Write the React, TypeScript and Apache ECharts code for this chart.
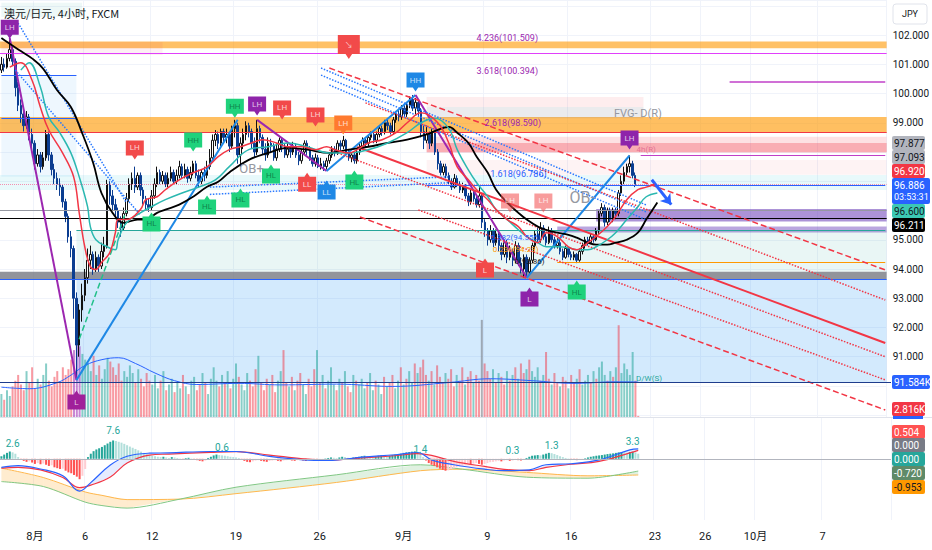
import React, { useEffect, useRef } from "react";
import * as echarts from "echarts";

// ---------- axis ticks ----------
const TOTAL_SLOTS = 319;
const tickIndex = [12, 30, 54, 84, 114, 144, 174, 204, 234, 252, 270, 294];
const tickText = ["8月", "6", "12", "19", "26", "9月", "9", "16", "23", "26", "10月", "7"];

// ---------- 4h candles (AUD/JPY) ----------
const firstOpen = 100.8;
const closes = [
  101.0, 100.9, 101.2, 101.5, 101.1, 100.2, 99.6, 99.3, 98.9, 99.2,
  98.6, 98.3, 97.6, 97.9, 97.5, 97.8, 98.6, 97.9, 97.4, 97.1,
  96.9, 96.8, 96.3, 95.8, 95.1, 94.7, 93.0, 91.4, 92.6, 93.1,
  93.7, 94.3, 94.5, 94.0, 94.4, 94.1, 94.6, 94.8, 96.9, 96.5,
  96.2, 96.0, 95.6, 95.4, 95.9, 96.4, 96.9, 97.1, 96.8, 97.2,
  96.7, 96.4, 96.2, 96.1, 96.5, 96.9, 97.3, 97.0, 97.2, 96.9,
  97.1, 97.3, 97.0, 97.2, 97.5, 97.2, 97.4, 97.1, 97.3, 97.6,
  97.2, 97.0, 97.3, 97.2, 97.5, 97.8, 98.4, 98.6, 98.3, 98.7,
  98.5, 98.6, 98.2, 98.8, 98.9, 97.9, 98.3, 98.6, 98.9, 98.7,
  98.3, 98.0, 98.8, 98.5, 98.1, 97.9, 98.3, 98.2, 97.8, 98.1,
  98.4, 98.2, 97.9, 98.1, 98.0, 98.2, 97.9, 97.7, 98.0, 98.3,
  98.1, 97.8, 97.6, 97.8, 97.5, 97.6, 97.5, 97.7, 97.9, 98.1,
  98.0, 98.3, 98.2, 98.4, 98.0, 97.8, 97.9, 97.7, 98.0, 98.2,
  98.4, 98.3, 98.5, 98.6, 98.4, 98.6, 98.8, 98.7, 99.0, 98.9,
  98.7, 99.1, 99.3, 99.2, 99.5, 99.3, 99.6, 99.8, 99.5, 99.7,
  99.4, 98.7, 98.4, 98.6, 98.3, 98.7, 98.0, 97.6, 97.3, 97.5,
  97.2, 97.0, 96.8, 97.1, 96.9, 96.7, 96.8, 96.5, 96.3, 96.6,
  96.4, 96.2, 96.5, 95.6, 95.3, 95.0, 95.3, 94.9, 95.2, 94.8,
  94.5, 94.9, 94.4, 94.6, 94.3, 94.8, 94.2, 94.0, 94.4, 93.9,
  94.3, 94.8, 95.2, 95.0, 95.4, 95.1, 94.9, 95.3, 95.0, 94.8,
  94.9, 94.6, 94.4, 94.7, 94.5, 94.4, 94.5, 94.3, 94.6, 94.8,
  95.0, 94.9, 95.1, 95.0, 95.3, 95.9, 96.1, 95.6, 96.0, 95.7,
  96.0, 95.9, 96.6, 97.0, 97.3, 97.5, 97.6, 97.2, 96.886,
];
const highs = [
  101.25, 101.2, 101.35, 101.9, 101.6, 101.2, 100.4, 99.8, 99.5, 99.4,
  99.3, 98.8, 98.4, 98.1, 98.0, 98.0, 98.75, 98.7, 98.0, 97.6,
  97.3, 97.1, 96.9, 96.4, 95.9, 95.3, 94.8, 93.2, 92.8, 93.5,
  94.0, 94.7, 94.8, 94.6, 94.6, 94.5, 94.9, 95.1, 97.05, 97.0,
  96.7, 96.4, 96.1, 95.8, 96.1, 96.6, 97.1, 97.3, 97.5, 97.3,
  97.3, 96.8, 96.5, 96.4, 96.7, 97.1, 97.5, 97.4, 97.35, 97.3,
  97.3, 97.5, 97.4, 97.4, 97.7, 97.6, 97.6, 97.5, 97.5, 97.7,
  97.7, 97.4, 97.4, 97.5, 97.7, 98.1, 98.6, 98.75, 98.7, 98.8,
  98.8, 98.8, 98.7, 98.9, 99.1, 99.0, 98.5, 98.8, 99.05, 99.0,
  98.8, 98.5, 99.1, 98.9, 98.6, 98.3, 98.5, 98.45, 98.3, 98.3,
  98.5, 98.5, 98.3, 98.3, 98.2, 98.35, 98.3, 98.0, 98.1, 98.4,
  98.4, 98.2, 97.9, 97.95, 97.9, 97.8, 97.7, 97.8, 98.0, 98.2,
  98.2, 98.4, 98.4, 98.55, 98.45, 98.1, 98.0, 98.0, 98.1, 98.3,
  98.5, 98.5, 98.6, 98.7, 98.7, 98.7, 98.9, 98.9, 99.1, 99.1,
  99.0, 99.2, 99.4, 99.45, 99.6, 99.6, 99.7, 99.9, 99.95, 99.85,
  99.8, 99.5, 98.9, 98.9, 98.7, 98.8, 98.7, 98.1, 97.7, 97.6,
  97.6, 97.3, 97.1, 97.25, 97.2, 97.0, 96.95, 96.9, 96.6, 96.7,
  96.7, 96.5, 96.8, 96.6, 95.7, 95.4, 95.5, 95.4, 95.35, 95.3,
  94.9, 95.0, 95.0, 94.8, 94.7, 94.95, 94.9, 94.4, 94.5, 94.5,
  94.4, 94.9, 95.3, 95.4, 95.6, 95.5, 95.2, 95.45, 95.4, 95.1,
  95.05, 95.0, 94.7, 94.8, 94.75, 94.6, 94.6, 94.55, 94.7, 94.9,
  95.1, 95.1, 95.2, 95.2, 95.4, 96.0, 96.25, 96.2, 96.1, 96.1,
  96.1, 96.1, 96.7, 97.2, 97.5, 97.6, 97.88, 97.7, 97.3,
];
const lows = [
  100.7, 100.75, 100.85, 101.1, 100.95, 99.9, 99.4, 99.0, 98.7, 98.8,
  98.4, 98.1, 97.4, 97.5, 97.3, 97.4, 97.7, 97.7, 97.2, 96.9,
  96.7, 96.5, 96.1, 95.6, 94.9, 94.4, 92.3, 90.2, 91.0, 92.2,
  92.9, 93.5, 94.0, 93.8, 93.9, 93.9, 94.0, 94.4, 94.7, 96.2,
  96.0, 95.7, 95.4, 95.1, 95.3, 95.8, 96.3, 96.7, 96.6, 96.7,
  96.5, 96.2, 96.0, 95.95, 96.0, 96.4, 96.8, 96.9, 96.9, 96.8,
  96.8, 97.0, 96.9, 96.9, 97.1, 97.1, 97.1, 96.95, 97.0, 97.2,
  97.1, 96.8, 96.9, 97.0, 97.1, 97.4, 97.7, 98.2, 98.1, 98.2,
  98.3, 98.3, 98.0, 98.1, 98.5, 97.6, 97.5, 98.1, 98.4, 98.5,
  98.1, 97.8, 97.9, 98.3, 97.9, 97.7, 97.8, 98.0, 97.7, 97.7,
  98.0, 98.0, 97.8, 97.8, 97.8, 97.9, 97.8, 97.55, 97.6, 97.9,
  97.9, 97.7, 97.5, 97.5, 97.45, 97.4, 97.35, 97.4, 97.6, 97.8,
  97.85, 97.9, 98.0, 98.1, 97.9, 97.7, 97.65, 97.6, 97.6, 97.9,
  98.1, 98.15, 98.2, 98.4, 98.3, 98.3, 98.5, 98.55, 98.6, 98.75,
  98.6, 98.6, 99.0, 99.05, 99.1, 99.2, 99.2, 99.5, 99.4, 99.3,
  99.2, 98.5, 98.1, 98.3, 98.1, 98.2, 97.9, 97.4, 97.2, 97.2,
  97.1, 96.85, 96.7, 96.75, 96.8, 96.6, 96.6, 96.4, 96.15, 96.2,
  96.3, 96.1, 96.1, 95.4, 95.1, 94.8, 94.9, 94.75, 94.8, 94.6,
  94.3, 94.4, 94.2, 94.3, 94.1, 94.2, 94.1, 93.85, 93.7, 93.75,
  93.8, 94.2, 94.7, 94.9, 94.9, 95.0, 94.8, 94.85, 94.9, 94.7,
  94.7, 94.5, 94.3, 94.35, 94.4, 94.3, 94.3, 94.2, 94.25, 94.5,
  94.7, 94.8, 94.85, 94.9, 94.95, 95.2, 95.8, 95.45, 95.5, 95.6,
  95.6, 95.7, 95.8, 96.5, 96.9, 97.2, 97.3, 97.1, 96.8,
];

// ---------- volume (thousands) ----------
const volumesK = [
  60, 45, 70, 55, 80, 95, 110, 85, 70, 120,
  90, 130, 75, 100, 85, 110, 140, 95, 80, 105,
  120, 90, 130, 110, 125, 150, 175, 190, 185, 165,
  150, 140, 120, 160, 110, 135, 100, 125, 155, 145,
  130, 110, 140, 95, 120, 105, 135, 115, 90, 125,
  100, 80, 115, 95, 85, 110, 75, 95, 120, 70,
  85, 100, 65, 90, 75, 110, 80, 60, 95, 105,
  70, 85, 115, 90, 60, 100, 130, 95, 80, 110,
  90, 120, 75, 100, 140, 105, 85, 70, 115, 95,
  80, 125, 160, 90, 70, 100, 85, 110, 65, 95,
  120, 175, 90, 80, 105, 70, 95, 115, 85, 60,
  100, 80, 125, 175, 90, 110, 75, 95, 130, 85,
  70, 100, 90, 120, 80, 65, 110, 95, 85, 100,
  75, 90, 115, 70, 95, 85, 60, 105, 80, 90,
  110, 75, 95, 130, 85, 100, 120, 90, 140, 115,
  130, 150, 110, 95, 120, 85, 135, 105, 90, 115,
  100, 125, 80, 110, 95, 130, 85, 105, 120, 90,
  110, 95, 254, 140, 120, 100, 125, 90, 115, 105,
  85, 120, 95, 110, 130, 100, 140, 115, 125, 150,
  120, 105, 130, 95, 110, 170, 100, 85, 115, 90,
  80, 105, 95, 75, 110, 90, 100, 125, 85, 95,
  110, 90, 120, 100, 130, 145, 110, 95, 120, 105,
  130, 240, 115, 140, 125, 110, 170, 95, 2.816,
];
const volMAIdx = [0, 10, 20, 25, 30, 36, 42, 48, 55, 62, 70, 85, 100, 120, 140, 160, 175, 190, 205, 220, 228];
const volMAVal = [78, 74, 90, 110, 135, 150, 155, 140, 115, 95, 85, 88, 84, 86, 80, 90, 100, 95, 88, 92, 91.6];

// ---------- moving averages ----------
const redMAIdx = [3, 7, 11, 14, 17, 22, 26, 28, 30, 32, 34, 36, 39, 41, 42, 45, 50, 52, 56, 59, 64, 69, 74, 78, 82, 86, 90, 94, 99, 103, 108, 113, 117, 120, 125, 128, 132, 137, 142, 146, 151, 157, 161, 164, 168, 171, 175, 178, 182, 186, 189, 193, 196, 200, 204, 207, 211, 214, 218, 221, 225, 229, 232, 235];
const redMAVal = [100.9, 101.05, 100.46, 99.54, 98.76, 97.97, 97.15, 95.92, 94.76, 94.08, 93.98, 94.22, 94.56, 95.24, 95.69, 95.69, 96.03, 96.37, 96.47, 96.71, 97.05, 97.29, 97.49, 97.84, 98.08, 98.18, 98.31, 98.42, 98.31, 98.18, 98.18, 98.08, 98.18, 98.08, 97.97, 98.08, 98.31, 98.42, 98.66, 99.0, 99.34, 99.0, 98.3, 97.49, 97.05, 96.71, 96.37, 96.03, 95.69, 95.45, 95.11, 94.9, 95.24, 95.11, 94.76, 94.66, 94.9, 95.11, 95.45, 95.79, 96.37, 96.71, 96.8, 96.9];
const tealMAIdx = [7, 10, 14, 17, 21, 25, 28, 31, 32, 34, 38, 41, 42, 45, 50, 54, 59, 65, 71, 77, 82, 89, 96, 103, 110, 118, 125, 132, 139, 146, 151, 156, 161, 164, 168, 171, 175, 178, 182, 186, 189, 193, 196, 200, 204, 207, 211, 214, 218, 221, 225, 229, 232, 236];
const tealMAVal = [100.8, 101.05, 100.23, 99.2, 98.66, 97.97, 97.15, 96.13, 95.45, 95.0, 94.76, 94.66, 95.0, 95.58, 95.92, 96.13, 96.37, 96.6, 96.8, 97.05, 97.5, 98.08, 98.18, 98.31, 98.18, 97.97, 97.97, 98.08, 98.31, 98.66, 99.0, 99.15, 98.8, 98.08, 97.39, 96.95, 96.47, 96.03, 95.69, 95.34, 95.11, 94.9, 94.76, 94.76, 94.73, 94.66, 94.66, 94.76, 95.0, 95.24, 95.69, 96.13, 96.47, 96.6];
const blackMAIdx = [0, 3, 7, 11, 15, 20, 25, 29, 33, 36, 40, 44, 49, 52, 56, 59, 64, 69, 74, 78, 82, 89, 96, 103, 110, 118, 125, 132, 139, 146, 153, 157, 161, 164, 168, 171, 175, 178, 182, 186, 189, 193, 196, 200, 204, 207, 211, 214, 218, 221, 225, 229, 232, 236];
const blackMAVal = [101.9, 101.7, 101.45, 101.2, 100.85, 100.12, 99.54, 98.66, 97.63, 96.6, 95.92, 95.58, 95.69, 95.69, 95.92, 96.03, 96.2, 96.47, 96.81, 96.98, 97.3, 97.73, 97.97, 98.14, 98.08, 97.97, 98.08, 98.18, 98.31, 98.42, 98.6, 98.76, 98.86, 98.66, 98.31, 97.84, 97.29, 96.71, 96.27, 95.92, 95.69, 95.45, 95.34, 95.24, 95.17, 95.07, 94.9, 94.83, 94.83, 94.9, 95.0, 95.24, 95.69, 96.27];

// ---------- MACD pane ----------
const macdHist = [
  0.15, 0.25, 0.35, 0.43, 0.38, 0.3, 0.1, -0.05, -0.12, -0.18,
  -0.15, -0.22, -0.3, -0.25, -0.32, -0.28, -0.35, -0.42, -0.38, -0.5,
  -0.55, -0.6, -0.58, -0.7, -0.8, -0.85, -0.95, -1.05, -1.2, -1.0,
  -0.6, 0.1, 0.3, 0.45, 0.55, 0.62, 0.7, 0.8, 0.9, 1.0,
  1.08, 1.05, 1.0, 0.95, 0.88, 0.8, 0.72, 0.65, 0.58, 0.5,
  0.42, 0.35, 0.3, 0.22, 0.18, 0.15, 0.12, 0.1, 0.12, 0.08,
  0.05, 0.1, 0.08, 0.05, 0.02, -0.03, 0.04, 0.06, 0.02, -0.02,
  -0.08, -0.12, -0.15, -0.1, 0.05, 0.12, 0.2, 0.25, 0.22, 0.2,
  0.18, 0.15, 0.12, 0.1, 0.08, 0.05, -0.05, -0.12, -0.18, -0.2,
  -0.15, -0.1, -0.08, -0.12, -0.15, -0.18, -0.12, -0.1, -0.08, -0.12,
  -0.15, -0.1, -0.08, -0.05, -0.1, -0.12, -0.08, -0.05, -0.1, -0.13,
  -0.08, -0.06, -0.1, -0.12, -0.08, -0.05, 0.02, 0.05, 0.08, 0.06,
  0.04, 0.08, 0.12, 0.1, 0.06, 0.05, 0.08, 0.1, 0.12, 0.15,
  0.18, 0.15, 0.12, 0.1, 0.14, 0.18, 0.2, 0.16, 0.14, 0.18,
  0.22, 0.25, 0.28, 0.3, 0.35, 0.38, 0.4, 0.42, 0.44, 0.4,
  0.3, 0.1, -0.1, -0.25, -0.35, -0.42, -0.5, -0.58, -0.65, -0.7,
  -0.68, -0.6, -0.55, -0.5, -0.45, -0.4, -0.35, -0.3, -0.32, -0.28,
  -0.25, -0.3, -0.35, -0.3, -0.25, -0.2, -0.18, -0.15, -0.12, -0.15,
  -0.1, -0.08, -0.12, -0.1, -0.06, -0.08, -0.1, -0.05, 0.05, 0.12,
  0.18, 0.2, 0.22, 0.2, 0.25, 0.3, 0.35, 0.33, 0.28, 0.22,
  0.15, 0.1, 0.05, 0.02, -0.03, -0.06, -0.08, -0.05, -0.02, 0.03,
  0.08, 0.12, 0.15, 0.18, 0.2, 0.22, 0.25, 0.28, 0.3, 0.32,
  0.35, 0.38, 0.4, 0.38, 0.35, 0.4, 0.42, 0.38, 0.3,
];
const macdIdx = [0, 6, 14, 22, 28, 32, 39, 45, 53, 60, 75, 84, 96, 108, 117, 129, 141, 149, 154, 162, 173, 180, 189, 195, 204, 214, 225, 228];
const macdVal = [-0.5, -0.4, -0.6, -1.0, -1.9, -1.4, -0.37, 0.15, 0.33, 0.35, 0.43, 0.43, 0.14, -0.06, -0.1, 0.1, 0.24, 0.37, -0.06, -0.35, -0.61, -0.7, -0.65, -0.35, -0.29, -0.06, 0.53, 0.59];
const signalVal = [-0.55, -0.5, -0.65, -1.1, -1.7, -1.55, -1.07, -0.25, 0.22, 0.28, 0.38, 0.42, 0.22, 0.0, -0.08, 0.05, 0.18, 0.3, 0.2, -0.15, -0.45, -0.62, -0.7, -0.5, -0.32, -0.15, 0.35, 0.5];
const bandIdx = [0, 15, 30, 36, 45, 64, 84, 120, 150, 165, 188, 210, 228];
const bandOrange = [-0.55, -1.1, -1.95, -2.15, -2.4, -2.37, -2.05, -1.39, -0.7, -0.61, -0.8, -1.0, -0.953];
const bandGreen = [-1.34, -1.63, -2.55, -2.75, -2.9, -2.37, -1.67, -0.94, -0.35, -0.61, -1.08, -1.14, -0.72];
const macdNoteIdx = [4, 40, 79, 150, 183, 197, 226];
const macdNoteVal = [0.88, 1.65, 0.65, 0.53, 0.47, 0.76, 1.0];
const macdNoteText = ["2.6", "7.6", "0.6", "1.4", "0.3", "1.3", "3.3"];

// ---------- swing labels ----------
const pivotText = ["LH", "LH", "HH", "HL", "HL", "HH", "LH", "LH", "HL", "HL", "LH", "LH", "LL", "LL", "HL", "HH", "↘", "LH", "LH", "L", "L", "HL", "LH", "L"];
const pivotIdx = [3, 48, 69, 54, 74, 84, 92, 101, 86, 97, 113, 123, 110, 117, 127, 149, 125, 183, 195, 174, 190, 207, 226, 27];
const pivotPrice = [102.2, 98.07, 98.34, 95.61, 96.19, 99.5, 99.57, 99.44, 96.43, 97.25, 99.2, 98.92, 96.97, 96.7, 97.04, 100.39, 101.59, 96.26, 96.26, 94.03, 93.04, 93.28, 98.41, 89.52];
const pivotKind = ["purple", "red", "green", "green", "green", "green", "purple", "red", "green", "green", "red", "orange", "red", "blue", "green", "blue", "red", "faint", "faint", "red", "purple", "green", "purple", "magenta"];
const pivotDown = [true, true, true, false, false, true, true, true, false, false, true, true, false, false, false, true, true, true, true, false, false, false, true, false];

// ---------- fib / zone texts ----------
const noteText = ["4.236(101.509)", "3.618(100.394)", "2.618(98.590)", "1.618(96.786)", "FVG- D(R)", "4h(R)", "OB-", "OB+", "D/W(S)", "0(93.86)", "0.236(94.29)", "0.382(94.556)"];
const noteIdx = [182, 182, 184, 186, 229, 232, 209, 90, 233, 190, 185, 185];
const notePrice = [101.9, 100.77, 99.0, 97.25, 99.33, 98.07, 96.46, 97.45, 90.27, 94.24, 94.68, 95.06];

// ---------- right-scale tags ----------
const tagText = ["97.877", "97.093", "96.920", "96.886", "96.600", "96.211", "91.584K", "2.816K", "0.504", "0.000", "0.000", "-0.720", "-0.953"];

const FONT = "Roboto, 'Noto Sans CJK SC', sans-serif";

function bandSeries(idx: number[], a: number[], b: number[], posColor: string, negColor: string, z: number) {
  const color = (d: number) => (d >= 0 ? posColor : negColor);
  return {
    type: "custom", xAxisIndex: 2, yAxisIndex: 2, z, silent: true,
    data: idx.map((x, j) => [x, a[j], b[j]]),
    encode: { x: 0, y: [1, 2] },
    renderItem: (params: any, api: any) => {
      const j = params.dataIndex;
      if (j >= idx.length - 1) return null;
      const x0 = idx[j], x1 = idx[j + 1];
      const a0 = a[j], a1 = a[j + 1], b0 = b[j], b1 = b[j + 1];
      const d0 = a0 - b0, d1 = a1 - b1;
      const poly = (pts: number[][], fill: string) => ({
        type: "polygon", shape: { points: pts.map((p) => api.coord(p)) }, style: { fill },
      });
      if (d0 * d1 < 0) {
        const t = d0 / (d0 - d1);
        const xc = x0 + t * (x1 - x0);
        const yc = a0 + t * (a1 - a0);
        return {
          type: "group",
          children: [poly([[x0, a0], [xc, yc], [x0, b0]], color(d0)), poly([[xc, yc], [x1, a1], [x1, b1]], color(d1))],
        };
      }
      return poly([[x0, a0], [x1, a1], [x1, b1], [x0, b0]], color(d0 + d1));
    },
  };
}

function buildOption() {
  const categories = Array.from({ length: TOTAL_SLOTS }, (_, i) => "c" + i);
  const candleData = closes.map((c, i) => {
    const o = i === 0 ? firstOpen : closes[i - 1];
    return [o, c, Math.min(lows[i], o, c), Math.max(highs[i], o, c)];
  });
  const volData = volumesK.map((v, i) => {
    const up = candleData[i][1] >= candleData[i][0];
    let color = up ? "rgba(38,166,154,0.55)" : "rgba(242,54,69,0.5)";
    if (i >= 26 && i <= 28) color = "rgba(156,39,176,0.55)";
    if (i === 172) color = "rgba(120,123,134,0.6)";
    return { value: v, itemStyle: { color } };
  });
  const histData = macdHist.map((v, i) => {
    const prev = i > 0 ? macdHist[i - 1] : v;
    let color;
    if (v >= 0) color = v >= prev ? "#26a69a" : "#b2dfdb";
    else color = v <= prev ? "#ff5252" : "#ffcdd2";
    return { value: v, itemStyle: { color } };
  });
  const pairs = (a: number[], b: number[]) => a.map((x, k) => [x, b[k]]);

  const tickSet = new Set(tickIndex);
  const isTick = (index: number) => tickSet.has(index);

  const kindColor: any = {
    purple: "#8e24aa", red: "#f24a4a", green: "#1fd27c", blue: "#1e88e5", orange: "#ff7a2f",
    faint: "rgba(242,74,74,0.55)", magenta: "#a0209a",
  };
  const downPin = "path://M0 0H20V15H13L10 19L7 15H0Z";
  const upPin = "path://M0 4H7L10 0L13 4H20V19H0Z";
  const pivotPoints = pivotText.map((t, k) => ({
    coord: [pivotIdx[k], pivotPrice[k]],
    symbol: pivotDown[k] ? downPin : upPin,
    symbolSize: t === "↘" ? [22, 24] : [18, 19],
    itemStyle: { color: kindColor[pivotKind[k]] },
    label: {
      show: true, formatter: t, fontSize: 8, fontFamily: FONT, position: "inside",
      offset: pivotDown[k] ? [0, -2] : [0, 2],
      color: pivotKind[k] === "green" ? "rgba(0,60,30,0.55)" : "rgba(255,255,255,0.75)",
    },
  }));
  const noteColors = ["#9c27b0", "#9c27b0", "#9c27b0", "#2962ff", "#9598a1", "#e57393", "#9598a1", "#9598a1", "#26a69a", "#131722", "#ff9800", "#2962ff"];
  const noteSizes = [9, 9, 9, 9, 11, 8, 16, 13, 8, 8, 8, 8];
  const notePoints = noteText.map((t, k) => ({
    coord: [noteIdx[k], notePrice[k]],
    symbol: "rect", symbolSize: 1, itemStyle: { color: "rgba(0,0,0,0)" },
    label: { show: true, formatter: t, position: "inside", color: noteColors[k], fontSize: noteSizes[k], fontFamily: FONT },
  }));

  const area = (y1: number, y2: number, color: string, x1?: number, x2?: number) => {
    const a: any = { yAxis: y1, itemStyle: { color } };
    const b: any = { yAxis: y2 };
    if (x1 !== undefined) a.xAxis = x1;
    if (x2 !== undefined) b.xAxis = x2;
    return [a, b];
  };
  const seg = (i1: number, p1: number, i2: number, p2: number, color: string, type: string, width: number) => [
    { coord: [i1, p1], lineStyle: { color, type, width } },
    { coord: [i2, p2] },
  ];
  const R = 318;

  const markAreas = [
    area(103.1, 102.62, "rgba(38,166,154,0.08)", 0, 29),
    area(101.78, 101.55, "rgba(255,152,0,0.6)"),
    area(101.76, 101.32, "rgba(233,30,99,0.07)", 0, 58),
    area(100.63, 97.15, "rgba(33,150,243,0.08)", 0, 27),
    area(99.2, 98.66, "rgba(255,152,0,0.62)"),
    area(99.88, 99.54, "rgba(242,54,69,0.09)", 153, 231),
    area(99.54, 99.15, "rgba(120,123,134,0.15)", 153, 231),
    area(98.52, 97.97, "rgba(242,54,69,0.15)", 153),
    area(98.31, 98.0, "rgba(242,54,69,0.3)", 153),
    area(97.73, 97.22, "rgba(242,54,69,0.06)", 153),
    area(97.21, 96.7, "rgba(0,188,212,0.09)"),
    area(96.05, 95.62, "rgba(103,58,183,0.55)", 214),
    area(95.45, 95.25, "rgba(103,58,183,0.45)", 200),
    area(95.33, 93.91, "rgba(38,166,154,0.1)", 27),
    area(93.91, 93.64, "rgba(110,112,122,0.75)"),
    area(93.64, 90.12, "rgba(33,150,243,0.2)", 27),
  ];
  const markLines = [
    { yAxis: 101.38, lineStyle: { color: "#e040fb", width: 1, type: "solid" } },
    { yAxis: 98.66, lineStyle: { color: "#f23645", width: 1, type: "solid" } },
    { yAxis: 96.9, lineStyle: { color: "#f48fb1", width: 1, type: "dotted" } },
    { yAxis: 96.02, lineStyle: { color: "#9598a1", width: 1, type: "solid" } },
    { yAxis: 95.72, lineStyle: { color: "#000000", width: 1, type: "solid" } },
    { yAxis: 93.64, lineStyle: { color: "#2962ff", width: 1, type: "solid" } },
    { yAxis: 90.12, lineStyle: { color: "#1e3c8c", width: 1, type: "solid" } },
    seg(27, 95.33, R, 95.33, "#26a69a", "solid", 1),
    seg(0, 100.63, 27, 100.63, "#2962ff", "solid", 1),
    seg(0, 99.17, 27, 99.17, "#2962ff", "solid", 1),
    seg(262, 100.394, R, 100.394, "#c040c8", "solid", 1.5),
    seg(230, 97.9, R, 97.9, "#c040c8", "solid", 1),
    seg(153, 96.85, R, 96.85, "#2962ff", "solid", 1),
    seg(200, 94.24, R, 94.24, "#ff9800", "solid", 1),
    // swing zigzag
    seg(3, 101.9, 27, 90.2, "#9c27b0", "solid", 2),
    seg(27, 90.2, 85, 99.1, "#1e88e5", "solid", 2),
    seg(92, 99.1, 117, 97.35, "#9c27b0", "solid", 2),
    seg(117, 97.35, 149, 99.95, "#1e88e5", "solid", 2),
    seg(149, 99.95, 189, 93.7, "#9c27b0", "solid", 2),
    seg(189, 93.7, 226, 97.88, "#1e88e5", "solid", 2),
    seg(28, 91.6, 45, 96.0, "#22c08a", "dashed", 1.5),
    // blue dotted trend lines
    seg(6, 102.41, 45, 96.26, "#2979ff", "dotted", 1.5),
    seg(5, 100.8, 50, 95.85, "#2979ff", "dotted", 1.5),
    seg(115, 100.87, 232, 96.19, "#2979ff", "dotted", 1.5),
    seg(115, 100.63, 232, 95.95, "#2979ff", "dotted", 1.5),
    seg(118, 100.29, 232, 95.68, "#2979ff", "dotted", 1.5),
    seg(75, 96.8, 161, 97.15, "#2979ff", "dotted", 1.5),
    seg(75, 96.55, 161, 96.95, "#2979ff", "dotted", 1.5),
    // red channel
    seg(118, 100.87, R, 93.97, "#f23645", "dashed", 1.5),
    seg(131, 99.68, R, 92.94, "#f23645", "dotted", 1.5),
    seg(128, 98.17, R, 91.47, "#f23645", "solid", 2),
    seg(118, 98.07, R, 91.0, "#f23645", "dotted", 1.5),
    seg(150, 96.02, R, 90.21, "#f23645", "dotted", 1.5),
    seg(129, 95.78, R, 89.18, "#f23645", "dashed", 1.5),
    [
      { coord: [234, 97.05], symbol: "none", lineStyle: { color: "#2962ff", width: 3, type: "solid" } },
      { coord: [241, 96.2], symbol: "arrow", symbolSize: 10 },
    ],
  ];

  const tagLayout = [
    { y: 143, bg: "#b2b5be", fg: "#131722" },
    { y: 157, bg: "#b2b5be", fg: "#131722" },
    { y: 171, bg: "#f23645", fg: "#ffffff" },
    { y: 185, bg: "#2962ff", fg: "#ffffff", sub: "03:53:31" },
    { y: 211, bg: "#3cc8b4", fg: "#131722" },
    { y: 225, bg: "#000000", fg: "#ffffff" },
    { y: 382, bg: "#2962ff", fg: "#ffffff" },
    { y: 409, bg: "#f23645", fg: "#ffffff" },
    { y: 432, bg: "#ff5252", fg: "#ffffff" },
    { y: 445, bg: "#787b86", fg: "#ffffff" },
    { y: 459, bg: "#26a69a", fg: "#ffffff" },
    { y: 473, bg: "#5f8a68", fg: "#ffffff" },
    { y: 487, bg: "#ff9800", fg: "#131722" },
  ];
  const tagGraphics: any[] = [
    { type: "rect", shape: { x: 893, y: 407, width: 30, height: 12 }, style: { fill: "#2962ff" }, z: 100 },
  ];
  tagText.forEach((t, k) => {
    const L: any = tagLayout[k];
    const h = L.sub ? 26 : 14;
    const w = t.length > 6 || L.sub ? 38 : 33;
    tagGraphics.push({ type: "rect", shape: { x: 892, y: L.y - 7, width: w, height: h, r: 2 }, style: { fill: L.bg }, z: 101 });
    tagGraphics.push({ type: "text", x: 894, y: L.y, style: { text: t, fill: L.fg, font: `10px ${FONT}`, verticalAlign: "middle" }, z: 102 });
    if (L.sub) {
      tagGraphics.push({ type: "text", x: 894, y: L.y + 12, style: { text: L.sub, fill: L.fg, font: `9px ${FONT}`, verticalAlign: "middle" }, z: 102 });
    }
  });

  // axis labels hidden underneath the tag stack
  const hiddenTicks = [96, 97, 98];

  return {
    animation: false,
    backgroundColor: "#ffffff",
    grid: [
      { left: 0, right: 41, top: 0, height: 417 },
      { left: 0, right: 41, top: 300, height: 117 },
      { left: 0, right: 41, top: 417, height: 103 },
    ],
    xAxis: [
      {
        type: "category", gridIndex: 0, data: categories, boundaryGap: true,
        axisLine: { show: false }, axisTick: { show: false }, axisLabel: { show: false },
        splitLine: { show: true, interval: isTick, lineStyle: { color: "#f0f3fa" } },
      },
      {
        type: "category", gridIndex: 1, data: categories, boundaryGap: true, show: false,
      },
      {
        type: "category", gridIndex: 2, data: categories, boundaryGap: true,
        axisLine: { show: false }, axisTick: { show: false },
        axisLabel: {
          interval: isTick, margin: 11, color: "#131722", fontSize: 11, fontFamily: FONT,
          formatter: (_v: string, index: number) => tickText[tickIndex.indexOf(index)] || "",
        },
        splitLine: { show: true, interval: isTick, lineStyle: { color: "#f0f3fa" } },
      },
    ],
    yAxis: [
      {
        type: "value", gridIndex: 0, position: "right", min: 88.94, max: 103.197, splitNumber: 14,
        axisLine: { show: false }, axisTick: { show: false },
        axisLabel: {
          color: "#131722", fontSize: 10, margin: 6, fontFamily: FONT, showMinLabel: false, showMaxLabel: false,
          formatter: (v: number) => (v > 102.5 || v < 90.5 || hiddenTicks.includes(Math.round(v)) ? "" : v.toFixed(3)),
        },
        splitLine: { lineStyle: { color: "#f0f3fa" } },
      },
      { type: "value", gridIndex: 1, min: 0, max: 306, show: false },
      {
        type: "value", gridIndex: 2, position: "right", min: -3.6, max: 2.46,
        axisLine: { show: false }, axisTick: { show: false }, axisLabel: { show: false },
        splitLine: { show: false },
      },
    ],
    series: [
      {
        type: "candlestick", name: "AUDJPY", xAxisIndex: 0, yAxisIndex: 0, data: candleData, barWidth: 2, z: 4,
        itemStyle: { color: "#ffffff", color0: "#0b3d91", borderColor: "#111111", borderColor0: "#0b3d91", borderWidth: 1 },
        markArea: { silent: true, z: 1, label: { show: false }, data: markAreas },
        markLine: { silent: true, z: 5, symbol: ["none", "none"], label: { show: false }, data: markLines },
        markPoint: { silent: true, z: 6, data: [...pivotPoints, ...notePoints] },
      },
      { type: "line", xAxisIndex: 0, yAxisIndex: 0, data: pairs(blackMAIdx, blackMAVal), smooth: 0.4, symbol: "none", lineStyle: { color: "#000000", width: 1.8 }, z: 5 },
      { type: "line", xAxisIndex: 0, yAxisIndex: 0, data: pairs(tealMAIdx, tealMAVal), smooth: 0.4, symbol: "none", lineStyle: { color: "#2bb8b0", width: 1.5 }, z: 5 },
      { type: "line", xAxisIndex: 0, yAxisIndex: 0, data: pairs(redMAIdx, redMAVal), smooth: 0.4, symbol: "none", lineStyle: { color: "#f23645", width: 1.5 }, z: 5 },
      {
        type: "bar", xAxisIndex: 1, yAxisIndex: 1, data: volData, barWidth: 2, z: 2,
        markLine: { silent: true, symbol: ["none", "none"], label: { show: false }, data: [{ yAxis: 91.584, lineStyle: { color: "#1e3c8c", width: 1, type: "solid" } }] },
      },
      { type: "line", xAxisIndex: 1, yAxisIndex: 1, data: pairs(volMAIdx, volMAVal), smooth: 0.4, symbol: "none", lineStyle: { color: "#2962ff", width: 1 }, z: 3 },
      bandSeries(bandIdx, bandOrange, bandGreen, "rgba(255,167,38,0.22)", "rgba(102,187,106,0.2)", 1),
      bandSeries(macdIdx, macdVal, signalVal, "rgba(41,98,255,0.12)", "rgba(242,54,69,0.1)", 1),
      { type: "line", xAxisIndex: 2, yAxisIndex: 2, data: pairs(bandIdx, bandOrange), smooth: 0.3, symbol: "none", lineStyle: { color: "#ffb74d", width: 1 }, z: 2 },
      { type: "line", xAxisIndex: 2, yAxisIndex: 2, data: pairs(bandIdx, bandGreen), smooth: 0.3, symbol: "none", lineStyle: { color: "#81c784", width: 1 }, z: 2 },
      {
        type: "bar", xAxisIndex: 2, yAxisIndex: 2, data: histData, barWidth: 2, z: 3,
        markLine: { silent: true, symbol: ["none", "none"], label: { show: false }, data: [{ yAxis: 0, lineStyle: { color: "#b2b5be", width: 1, type: "solid" } }] },
        markPoint: {
          silent: true,
          data: macdNoteText.map((t, k) => ({
            coord: [macdNoteIdx[k], macdNoteVal[k]], symbol: "rect", symbolSize: 1, itemStyle: { color: "rgba(0,0,0,0)" },
            label: { show: true, formatter: t, position: "inside", color: "#26a69a", fontSize: 10, fontFamily: FONT },
          })),
        },
      },
      { type: "line", xAxisIndex: 2, yAxisIndex: 2, data: pairs(macdIdx, signalVal), smooth: 0.4, symbol: "none", lineStyle: { color: "#f23645", width: 1.2 }, z: 4 },
      { type: "line", xAxisIndex: 2, yAxisIndex: 2, data: pairs(macdIdx, macdVal), smooth: 0.4, symbol: "none", lineStyle: { color: "#2962ff", width: 1.2 }, z: 4 },
    ],
    graphic: [
      { type: "line", shape: { x1: 0, y1: 417.5, x2: 932, y2: 417.5 }, style: { stroke: "#e0e3eb", lineWidth: 1 }, z: 50 },
      { type: "text", x: 4, y: 13, style: { text: "澳元/日元, 4小时, FXCM", fill: "#131722", font: `11px 'Noto Sans CJK SC', sans-serif`, verticalAlign: "middle" }, z: 60 },
      { type: "rect", shape: { x: 893, y: 4, width: 34, height: 20, r: 3 }, style: { fill: "#ffffff", stroke: "#e0e3eb" }, z: 60 },
      { type: "text", x: 910, y: 14, style: { text: "JPY", fill: "#131722", font: `9px ${FONT}`, align: "center", verticalAlign: "middle" }, z: 61 },
      ...tagGraphics,
    ],
  };
}

export default function App() {
  const ref = useRef<HTMLDivElement>(null);
  useEffect(() => {
    document.body.style.margin = "0";
    const chart = echarts.init(ref.current as HTMLDivElement, null, { renderer: "svg" });
    chart.setOption(buildOption() as any);
    return () => chart.dispose();
  }, []);
  return <div ref={ref} style={{ position: "absolute", left: 0, top: 0, width: 932, height: 550 }} />;
}
